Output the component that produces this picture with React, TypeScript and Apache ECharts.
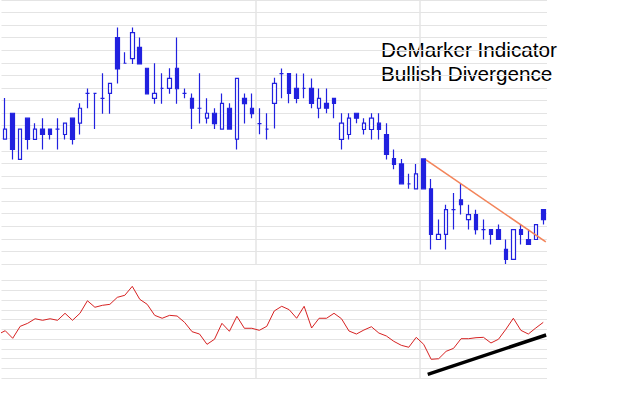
import React, { useEffect, useRef } from "react";
import * as echarts from "echarts";

const categories: string[] = Array.from({ length: 73 }, (_, i) => String(i + 1));

const opens = [39.94, 41.99, 38.32, 41.60, 39.91, 40.73, 40.73, 40.73, 40.30, 41.60, 41.20, 43.57, 43.57, 43.18, 43.57, 48.00, 45.97, 46.34, 47.23, 45.57, 43.18, 43.97, 43.97, 45.57, 43.57, 43.18, 42.39, 41.60, 41.99, 40.73, 42.39, 39.94, 43.18, 42.39, 41.17, 40.73, 42.78, 45.15, 45.15, 43.97, 43.97, 43.97, 42.39, 42.78, 43.18, 39.91, 40.30, 41.99, 40.70, 40.70, 41.20, 40.30, 38.38, 37.96, 36.38, 35.98, 38.36, 35.98, 31.95, 32.35, 34.32, 35.11, 33.53, 33.93, 32.74, 32.74, 32.74, 31.16, 30.37, 32.74, 31.95, 31.95, 34.32];
const closes = [40.73, 39.11, 40.73, 39.91, 40.73, 40.30, 40.30, 40.73, 41.20, 39.91, 42.39, 43.57, 43.57, 43.18, 44.36, 45.52, 45.97, 48.40, 45.91, 43.54, 43.57, 43.97, 44.76, 43.94, 43.57, 42.39, 42.39, 41.99, 41.17, 42.78, 40.73, 44.76, 42.75, 41.96, 41.17, 40.73, 44.36, 45.15, 43.57, 43.18, 43.97, 42.78, 43.18, 42.39, 42.78, 41.20, 41.60, 41.60, 41.20, 41.60, 40.70, 38.72, 37.93, 36.38, 36.38, 37.17, 35.98, 32.35, 32.35, 34.32, 34.32, 34.72, 33.93, 32.74, 32.74, 32.35, 31.95, 30.37, 32.74, 32.35, 31.56, 33.14, 33.53];
const lows = [39.94, 38.32, 38.32, 39.11, 39.91, 39.11, 39.91, 39.11, 39.91, 39.51, 40.30, 42.39, 40.73, 41.96, 41.96, 44.36, 45.97, 45.91, 45.91, 43.54, 42.75, 42.75, 43.54, 42.75, 43.18, 40.73, 41.17, 41.17, 40.73, 40.73, 40.73, 39.11, 41.17, 41.60, 40.33, 39.91, 40.77, 43.18, 42.78, 42.78, 43.18, 42.39, 41.60, 41.99, 41.60, 39.11, 39.91, 41.20, 40.30, 39.91, 39.91, 38.32, 37.53, 36.38, 35.98, 35.98, 35.98, 31.16, 31.95, 31.16, 32.74, 33.93, 32.74, 32.35, 31.95, 31.56, 31.95, 30.00, 30.37, 31.56, 31.56, 31.95, 33.14];
const highs = [43.20, 41.99, 40.73, 41.60, 41.20, 41.60, 40.73, 41.60, 41.20, 41.60, 42.78, 43.97, 43.57, 45.18, 44.36, 48.81, 46.84, 48.81, 48.02, 45.57, 45.97, 45.18, 45.57, 48.02, 43.97, 43.57, 45.18, 43.18, 42.39, 43.57, 42.78, 44.76, 43.57, 43.57, 42.39, 41.99, 44.81, 45.55, 45.15, 45.15, 45.15, 44.76, 43.97, 43.97, 43.18, 41.99, 41.99, 41.99, 41.60, 41.99, 41.99, 41.20, 39.11, 38.36, 37.17, 37.96, 38.36, 36.77, 33.53, 34.72, 35.64, 36.38, 34.72, 34.32, 33.53, 32.74, 33.14, 31.95, 32.74, 33.14, 32.74, 33.14, 34.32];

// DeMarker values, first one belongs to the day before the first visible candle
const demarker = [0.447, 0.486, 0.408, 0.531, 0.562, 0.609, 0.593, 0.609, 0.593, 0.665, 0.593, 0.665, 0.794, 0.727, 0.747, 0.757, 0.829, 0.850, 0.942, 0.809, 0.757, 0.644, 0.614, 0.644, 0.637, 0.572, 0.476, 0.452, 0.346, 0.398, 0.562, 0.480, 0.634, 0.511, 0.511, 0.490, 0.531, 0.689, 0.737, 0.702, 0.614, 0.737, 0.514, 0.614, 0.614, 0.665, 0.609, 0.483, 0.452, 0.493, 0.527, 0.462, 0.432, 0.377, 0.336, 0.316, 0.418, 0.346, 0.192, 0.198, 0.274, 0.305, 0.404, 0.404, 0.414, 0.418, 0.360, 0.398, 0.501, 0.614, 0.490, 0.452, 0.514, 0.572];

const monthStarts = [14, 34, 56];

const trendX = [56.31, 72.34];
const trendY = [38.28, 31.76];
const divX = [56.54, 72.38];
const divY = [0.038, 0.442];

const BLUE = "#2121df";
const GRID = "#e4e4e4";

export default function App() {
  const ref = useRef<HTMLDivElement>(null);
  useEffect(() => {
    if (!ref.current) return;
    const chart = echarts.init(ref.current, undefined, { renderer: "svg" });
    const hiddenCat = (gridIndex: number) => ({
      type: "category",
      gridIndex,
      data: categories,
      boundaryGap: true,
      axisLine: { show: false },
      axisTick: { show: false },
      axisLabel: { show: false },
      splitLine: {
        show: true,
        showMinLine: false,
        showMaxLine: false,
        interval: (i: number) => monthStarts.includes(i),
        lineStyle: { color: GRID, width: 1.5 },
      },
    });
    const hiddenVal = (gridIndex: number) => ({
      type: "value",
      gridIndex,
      min: -0.5,
      max: 72.5,
      show: false,
      position: "top",
      splitLine: { show: false },
    });
    const yAx = (gridIndex: number, min: number, max: number, interval: number) => ({
      type: "value",
      gridIndex,
      min,
      max,
      interval,
      axisLine: { show: false },
      axisTick: { show: false },
      axisLabel: { show: false },
      splitLine: { show: true, lineStyle: { color: GRID, width: 1.2 } },
    });
    const textFont = '20.7px "Liberation Sans", Arial, sans-serif';
    chart.setOption({
      animation: false,
      backgroundColor: "#ffffff",
      grid: [
        { left: 1.5, top: -1.65, width: 545.5, height: 265.65 },
        { left: 1.5, top: 280.7, width: 545.5, height: 97.3 },
      ],
      xAxis: [hiddenCat(0), hiddenVal(0), hiddenCat(1), hiddenVal(1)],
      yAxis: [yAx(0, 30, 51, 1), yAx(1, 0, 1, 0.1)],
      series: [
        {
          type: "candlestick",
          xAxisIndex: 0,
          yAxisIndex: 0,
          barWidth: 4,
          data: categories.map((_, i) => [opens[i], closes[i], lows[i], highs[i]]),
          itemStyle: {
            color: "#ffffff",
            color0: BLUE,
            borderColor: BLUE,
            borderColor0: BLUE,
            borderColorDoji: BLUE,
            borderWidth: 1.2,
          },
        },
        {
          type: "line",
          xAxisIndex: 1,
          yAxisIndex: 0,
          symbol: "none",
          data: trendX.map((x, i) => [x, trendY[i]]),
          lineStyle: { color: "#f3845a", width: 1.6 },
        },
        {
          type: "line",
          xAxisIndex: 3,
          yAxisIndex: 1,
          symbol: "none",
          data: demarker.map((v, i) => [i - 1, v]),
          lineStyle: { color: "#d62222", width: 1 },
        },
        {
          type: "line",
          xAxisIndex: 3,
          yAxisIndex: 1,
          symbol: "none",
          data: divX.map((x, i) => [x, divY[i]]),
          lineStyle: { color: "#000000", width: 3.5 },
        },
      ],
      graphic: [
        {
          type: "text",
          x: 381,
          y: 49,
          style: {
            text: "DeMarker Indicator",
            font: textFont,
            fill: "#000",
            verticalAlign: "middle",
            align: "left",
          },
        },
        {
          type: "text",
          x: 381,
          y: 73.5,
          style: {
            text: "Bullish Divergence",
            font: textFont,
            fill: "#000",
            verticalAlign: "middle",
            align: "left",
          },
        },
      ],
    });
    return () => chart.dispose();
  }, []);
  return (
    <div
      ref={ref}
      style={{ position: "absolute", left: 0, top: 0, width: 626, height: 406, background: "#fff" }}
    />
  );
}
